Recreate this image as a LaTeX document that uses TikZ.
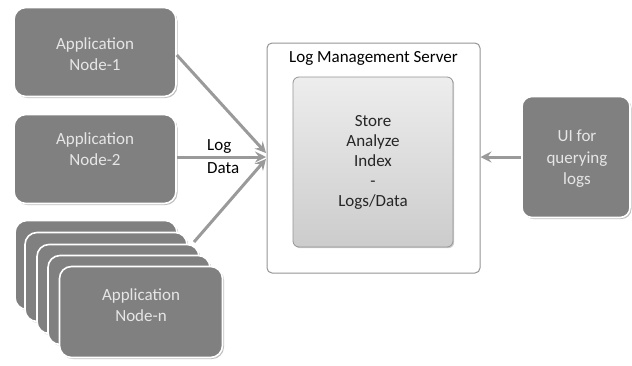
\documentclass[tikz,border=0pt]{standalone}
\usepackage{fontspec}
\setmainfont{Carlito}
\usetikzlibrary{arrows.meta,shadows}
\definecolor{boxgray}{HTML}{808080}
\definecolor{txtgray}{HTML}{E6E6E6}
\definecolor{arrgray}{HTML}{9A9A9A}
\definecolor{frame}{HTML}{959595}
\begin{document}
\begin{tikzpicture}[x=1pt,y=-1pt,
  appbox/.style={draw=white, line width=1.6pt, fill=boxgray, rounded corners=12pt,
    minimum width=162pt, minimum height=89pt, inner sep=0pt,
    drop shadow={shadow xshift=1.5pt, shadow yshift=-1.5pt, fill=black, opacity=0.25}},
  apptext/.style={text=txtgray, align=center, inner sep=0pt, font=\fontsize{17}{21.5}\selectfont},
  flow/.style={draw=arrgray, line width=3pt, -{Stealth[length=11pt,width=11pt,inset=4pt]}},
  lbl/.style={font=\fontsize{17}{23}\selectfont, align=left, inner sep=0pt}]
\useasboundingbox (0,0) rectangle (632,365);
\fill[white] (0,0) rectangle (632,365);

% server
\node[draw=frame, line width=1pt, fill=white, rounded corners=5pt, minimum width=213pt, minimum height=230pt, inner sep=0pt] (server) at (373.5,158) {};
\node[font=\fontsize{17}{21}\selectfont, inner sep=0pt] (title) at (373.5,58) {Log Management Server};
\node[draw=frame, line width=0.8pt, rounded corners=6pt, top color=white!93!black, bottom color=white!80!black,
  minimum width=160pt, minimum height=170pt, inner sep=0pt, align=center,
  font=\fontsize{17}{20}\selectfont, text=black!85,
  drop shadow={shadow xshift=1.2pt, shadow yshift=-1.2pt, fill=black, opacity=0.2}] (store) at (373,162)
  {Store\\Analyze\\Index\\-\\Logs/Data};

% stack arrow start (behind stack)
\coordinate (sfrom) at (194,242);
\draw[flow] (sfrom) -- (266,159);

% app nodes
\node[appbox] (n1) at (95,52) {};
\node[apptext] (n1t) at (95,54) {Application\\Node-1};
\node[appbox] (n2) at (95,159) {};
\node[apptext] (n2t) at (95,149) {Application\\Node-2};

\node[appbox] (s1) at (96,265) {};
\node[appbox] (s2) at (106,277) {};
\node[appbox] (s3) at (118,289) {};
\node[appbox] (s4) at (129,300) {};
\node[appbox, minimum width=163pt, minimum height=91pt] (s5) at (141,312) {};
\node[apptext] (s5t) at (141,305) {Application\\Node-n};

% UI node
\node[appbox, minimum width=108pt, minimum height=121pt, rounded corners=10pt] (ui) at (576,157) {};
\node[apptext] (uit) at (577,159) {UI for\\querying\\logs};

% arrows
\draw[flow] (n1.east |- 0,55) -- (266,153);
\draw[flow] (n2.east |- 0,157) -- (266,157);
\draw[flow] (ui.west |- 0,157) -- (server.east |- 0,157);

\node[lbl, anchor=north west] (ld) at (207,139) {Log\\Data};
\end{tikzpicture}
\end{document}
